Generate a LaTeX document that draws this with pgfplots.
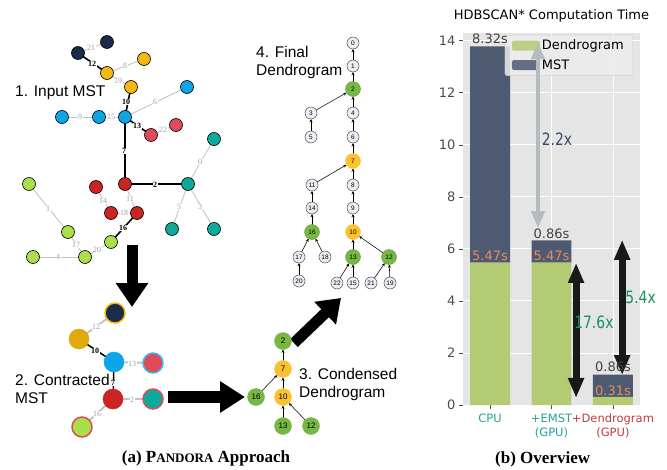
\documentclass[border=0pt]{standalone}
\usepackage{pgfplots}
\pgfplotsset{compat=1.18}
\usepackage{fontspec}
\usetikzlibrary{arrows.meta}
\newfontfamily\dv{DejaVu Sans}
\newfontfamily\dvc[FakeStretch=0.82]{DejaVu Sans}
\newfontfamily\ls{Liberation Sans}
\newfontfamily\lsr{Liberation Serif}
\definecolor{navy}{HTML}{1C2B4A}
\definecolor{ylw}{HTML}{F5B80F}
\definecolor{blu}{HTML}{0DA5E8}
\definecolor{pnk}{HTML}{E04B5B}
\definecolor{rd}{HTML}{CC2323}
\definecolor{teal}{HTML}{0FA99B}
\definecolor{lime}{HTML}{A9DF4B}
\definecolor{dgreen}{HTML}{77B845}
\definecolor{dylw}{HTML}{FCC12F}
\definecolor{wnode}{HTML}{EEEDF5}
\definecolor{chartgreen}{HTML}{B3CC73}
\definecolor{mstcol}{HTML}{4E5A72}
\definecolor{bg}{HTML}{E5E5E5}
\definecolor{orangelab}{HTML}{EA8A5A}
\definecolor{greentext}{HTML}{17915F}
\definecolor{slatetext}{HTML}{3D4866}
\definecolor{arrowgray}{HTML}{B5BCC0}
\definecolor{tickgray}{HTML}{4D4D4D}
\definecolor{cputeal}{HTML}{22A39D}
\definecolor{gpured}{HTML}{C43B3D}
\definecolor{legbg}{HTML}{EDEDED}
\definecolor{legborder}{HTML}{D0D0D0}
\definecolor{edgegray}{HTML}{C4C4C4}
\newcommand{\glab}[3]{\node[font=\lsr\fontsize{8}{8}\selectfont, text=gray!75, fill=white, inner sep=0.5pt] at (axis cs:#1,#2) {#3};}
\newcommand{\blab}[3]{\node[font=\lsr\bfseries\fontsize{8}{8}\selectfont, text=black, fill=white, inner sep=0.5pt] at (axis cs:#1,#2) {#3};}
\newcommand{\gedge}[4]{\addplot[edgegray, line width=0.9pt] coordinates {(#1,#2) (#3,#4)};}
\newcommand{\bedge}[4]{\addplot[black, line width=1.6pt] coordinates {(#1,#2) (#3,#4)};}
\newcommand{\darr}[6]{\addplot[black, line width=0.55pt, -{Stealth[length=3.2pt,width=3pt]}, shorten <=#5pt, shorten >=#6pt] coordinates {(#1,#2) (#3,#4)};}
\newcommand{\nlab}[3]{\node[font=\ls\fontsize{6.5}{6.5}\selectfont, inner sep=0pt] at (axis cs:#1,#2) {#3};}
\newcommand{\clab}[3]{\node[font=\ls\fontsize{8}{8}\selectfont, inner sep=0pt] at (axis cs:#1,#2) {#3};}
\pgfplotsset{leftframe/.style={at={(0pt,0pt)}, anchor=south west, scale only axis, width=420pt, height=469pt,
  xmin=0, xmax=420, ymin=0, ymax=469, y dir=reverse, hide axis, clip=false},
  rightframe/.style={at={(463pt,64pt)}, anchor=south west, scale only axis, width=177pt, height=372pt,
  xmin=-0.44, xmax=2.44, ymin=0, ymax=14.3, clip=false}}
\begin{document}
\begin{tikzpicture}
\useasboundingbox (0pt,0pt) rectangle (667pt,469pt);
% ================= LEFT: diagram =================
\begin{axis}[leftframe]
% --- Input MST edges
\gedge{78}{53}{107}{42}
\gedge{107}{73}{144}{59}
\gedge{107}{73}{131}{87}
\gedge{125}{117}{187}{87}
\gedge{99}{117}{125}{117}
\gedge{62}{117}{99}{117}
\gedge{151}{135}{176}{125}
\gedge{188}{184}{214}{139}
\gedge{188}{184}{172}{229}
\gedge{188}{184}{214}{229}
\gedge{96}{187}{111}{213}
\gedge{125}{184}{137}{213}
\gedge{111}{213}{137}{213}
\gedge{29}{184}{68}{232}
\gedge{68}{232}{85}{257}
\gedge{85}{257}{111}{242}
\gedge{33}{257}{85}{257}
\bedge{78}{53}{107}{73}
\bedge{131}{87}{125}{117}
\bedge{125}{117}{151}{135}
\bedge{125}{117}{125}{184}
\bedge{125}{184}{188}{184}
\bedge{137}{213}{111}{242}
% --- Input MST nodes
\addplot[only marks, mark=*, mark size=6.5pt, mark options={draw=black, fill=navy, line width=0.6pt}] coordinates {(107,42) (78,53)};
\addplot[only marks, mark=*, mark size=6.5pt, mark options={draw=black, fill=ylw, line width=0.6pt}] coordinates {(144,59) (107,73) (131,87)};
\addplot[only marks, mark=*, mark size=6.5pt, mark options={draw=black, fill=blu, line width=0.6pt}] coordinates {(187,87) (62,117) (99,117) (125,117)};
\addplot[only marks, mark=*, mark size=6.5pt, mark options={draw=black, fill=pnk, line width=0.6pt}] coordinates {(176,125) (151,135)};
\addplot[only marks, mark=*, mark size=6.5pt, mark options={draw=black, fill=teal, line width=0.6pt}] coordinates {(214,139) (188,184) (172,229) (214,229)};
\addplot[only marks, mark=*, mark size=6.5pt, mark options={draw=black, fill=rd, line width=0.6pt}] coordinates {(125,184) (96,187) (111,213) (137,213)};
\addplot[only marks, mark=*, mark size=6.5pt, mark options={draw=black, fill=lime, line width=0.6pt}] coordinates {(29,184) (68,232) (111,242) (33,257) (85,257)};
% --- Contracted MST
\addplot[edgegray, line width=2pt] coordinates {(115,313) (79,339)};
\addplot[black, line width=1.5pt] coordinates {(79,339) (114,362)};
\addplot[edgegray, line width=2pt] coordinates {(114,362) (153,363)};
\addplot[black, line width=1.5pt] coordinates {(114,362) (113,399)};
\addplot[edgegray, line width=2pt] coordinates {(113,399) (153,399)};
\addplot[edgegray, line width=2pt] coordinates {(113,399) (82,427)};
\addplot[only marks, mark=*, mark size=10pt, mark options={draw=ylw, fill=navy, line width=1.5pt}] coordinates {(115,313)};
\addplot[only marks, mark=*, mark size=10pt, mark options={draw=ylw!90!black, fill=ylw!92!black, line width=0.5pt}] coordinates {(79,339)};
\addplot[only marks, mark=*, mark size=10pt, mark options={draw=blu, fill=blu, line width=0.5pt}] coordinates {(114,362)};
\addplot[only marks, mark=*, mark size=10pt, mark options={draw=blu!80, fill=pnk, line width=1.5pt}] coordinates {(153,363)};
\addplot[only marks, mark=*, mark size=10pt, mark options={draw=rd, fill=rd, line width=0.5pt}] coordinates {(113,399)};
\addplot[only marks, mark=*, mark size=10pt, mark options={draw=pnk, fill=teal, line width=1.5pt}] coordinates {(153,399)};
\addplot[only marks, mark=*, mark size=10pt, mark options={draw=pnk, fill=lime, line width=1.5pt}] coordinates {(82,427)};
% --- Big arrows
\addplot[black, line width=11pt, -{Triangle[width=31pt,length=24pt]}] coordinates {(132,245) (132,307)};
\addplot[black, line width=12pt, -{Triangle[width=30pt,length=25pt]}] coordinates {(168,397) (245,397)};
\addplot[black, line width=11pt, -{Triangle[width=30pt,length=22pt]}] coordinates {(294,343) (341,298)};
% --- Condensed dendrogram
\darr{283}{369}{283}{341}{8.5}{8.5}
\darr{256}{397}{283}{369}{8.5}{8.5}
\darr{283}{397}{283}{369}{8.5}{8.5}
\darr{283}{426}{283}{397}{8.5}{8.5}
\darr{311}{426}{283}{397}{8.5}{8.5}
\addplot[only marks, mark=*, mark size=8.5pt, mark options={draw=dgreen, fill=dgreen}] coordinates {(283,341) (256,397) (283,426) (311,426)};
\addplot[only marks, mark=*, mark size=8.5pt, mark options={draw=dylw, fill=dylw}] coordinates {(283,369) (283,397)};
% --- Final dendrogram
\darr{353}{66}{353}{43}{6}{6}
\darr{353}{89}{353}{66}{7.5}{6}
\darr{353}{113}{353}{89}{6}{7.5}
\darr{311}{113}{353}{89}{6}{7.5}
\darr{311}{137}{311}{113}{6}{6}
\darr{353}{137}{353}{113}{6}{6}
\darr{353}{161}{353}{137}{7.5}{6}
\darr{353}{185}{353}{161}{6}{7.5}
\darr{312}{185}{353}{161}{6}{7.5}
\darr{353}{208}{353}{185}{6}{6}
\darr{312}{208}{312}{185}{6}{6}
\darr{353}{232}{353}{208}{7.5}{6}
\darr{312}{232}{312}{208}{7.5}{6}
\darr{353}{257}{353}{232}{7.5}{7.5}
\darr{389}{257}{353}{232}{7.5}{7.5}
\darr{299}{257}{312}{232}{6}{7.5}
\darr{325}{257}{312}{232}{6}{7.5}
\darr{299}{281}{299}{257}{6}{6}
\darr{337}{283}{353}{257}{6}{7.5}
\darr{353}{283}{353}{257}{6}{7.5}
\darr{371}{283}{389}{257}{6}{7.5}
\darr{390}{283}{389}{257}{6}{7.5}
\addplot[only marks, mark=*, mark size=6pt, mark options={draw=black!70, fill=wnode, line width=0.5pt}] coordinates {(353,43) (353,66) (311,113) (353,113) (311,137) (353,137) (312,185) (353,185) (312,208) (353,208) (299,257) (325,257) (299,281) (337,283) (353,283) (371,283) (390,283)};
\addplot[only marks, mark=*, mark size=7.5pt, mark options={draw=dgreen!85!black, fill=dgreen, line width=0.4pt}] coordinates {(353,89) (312,232) (353,257) (389,257)};
\addplot[only marks, mark=*, mark size=7.5pt, mark options={draw=dylw, fill=dylw, line width=0.4pt}] coordinates {(353,161) (353,232)};
\end{axis}
% overlay: texts of the left part
\begin{axis}[leftframe]
\glab{91}{48}{21}
\glab{125}{66}{8}
\glab{118}{81}{19}
\glab{155}{102}{6}
\glab{111}{117}{15}
\glab{80}{117}{9}
\glab{163}{130}{22}
\glab{200}{162}{0}
\glab{179}{207}{5}
\glab{200}{207}{3}
\glab{103}{201}{14}
\glab{130}{199}{11}
\glab{124}{213}{18}
\glab{48}{209}{1}
\glab{76}{245}{17}
\glab{97}{250}{20}
\glab{58}{257}{4}
\blab{92}{64}{12}
\blab{126}{102}{10}
\blab{137}{126}{13}
\blab{124}{151}{7}
\blab{155}{185}{2}
\blab{123}{228}{16}
\glab{96}{327}{12}
\blab{95}{351}{10}
\glab{132}{364}{13}
\blab{113}{383}{7}
\glab{132}{400}{2}
\glab{97}{414}{16}
\clab{283}{341}{2}
\clab{283}{369}{7}
\clab{256}{397}{16}
\clab{283}{397}{10}
\clab{283}{426}{13}
\clab{311}{426}{12}
\nlab{353}{43}{0}
\nlab{353}{66}{1}
\nlab{353}{89}{2}
\nlab{311}{113}{3}
\nlab{353}{113}{4}
\nlab{311}{137}{5}
\nlab{353}{137}{6}
\nlab{353}{161}{7}
\nlab{312}{185}{11}
\nlab{353}{185}{8}
\nlab{312}{208}{14}
\nlab{353}{208}{9}
\nlab{312}{232}{16}
\nlab{353}{232}{10}
\nlab{299}{257}{17}
\nlab{325}{257}{18}
\nlab{353}{257}{13}
\nlab{389}{257}{12}
\nlab{299}{281}{20}
\nlab{337}{283}{22}
\nlab{353}{283}{15}
\nlab{371}{283}{21}
\nlab{390}{283}{19}
\node[anchor=west, font=\ls\fontsize{15.5}{18}\selectfont, inner sep=0pt] at (axis cs:15,93) {1. Input MST};
\node[anchor=west, font=\ls\fontsize{15.5}{18}\selectfont, inner sep=0pt] at (axis cs:15,380) {2. Contracted};
\node[anchor=west, font=\ls\fontsize{15.5}{18}\selectfont, inner sep=0pt] at (axis cs:15,398) {MST};
\node[anchor=west, font=\ls\fontsize{15.5}{18}\selectfont, inner sep=0pt] at (axis cs:299,374) {3. Condensed};
\node[anchor=west, font=\ls\fontsize{15.5}{18}\selectfont, inner sep=0pt] at (axis cs:299,393) {Dendrogram};
\node[anchor=west, font=\ls\fontsize{15.5}{18}\selectfont, inner sep=0pt] at (axis cs:256,52) {4. Final};
\node[anchor=west, font=\ls\fontsize{15.5}{18}\selectfont, inner sep=0pt] at (axis cs:256,71) {Dendrogram};
\node[font=\lsr\bfseries\fontsize{17}{20}\selectfont, inner sep=0pt] at (axis cs:206,458) {(a) P{\fontsize{13}{20}\selectfont ANDORA} Approach};
\end{axis}
% ================= RIGHT: chart =================
\begin{axis}[rightframe,
  axis background/.style={fill=bg}, axis line style={draw=none},
  grid=major, grid style={white, line width=0.9pt},
  xtick={0,1,2}, ytick={0,2,4,6,8,10,12,14},
  xticklabels={\textcolor{cputeal}{CPU}, {\textcolor{cputeal}{+EMST}\\\textcolor{cputeal}{(GPU)}}, {\textcolor{gpured}{+Dendrogram}\\\textcolor{gpured}{(GPU)}}},
  xticklabel style={align=center, font=\dv\fontsize{11.5}{13.5}\selectfont, yshift=-1.5pt},
  yticklabel style={text=tickgray, font=\dv\fontsize{13}{15}\selectfont},
  /pgf/number format/assume math mode=true,
  tick style={color=tickgray, line width=0.7pt}, tick align=outside, major tick length=4pt,
  xtick pos=bottom, ytick pos=left,
  ybar stacked, bar width=0.65,
  legend style={at={(0.96,0.995)}, anchor=north east, fill=legbg, fill opacity=0.85, text opacity=1, draw=legborder, rounded corners=2pt, font=\dv\fontsize{13}{15}\selectfont, inner xsep=7pt, inner ysep=3pt, row sep=4pt},
  legend cell align=left]
\addplot[fill=chartgreen, draw=none, legend image code/.code={\fill[chartgreen] (0pt,-5pt) rectangle (28pt,5pt);}] coordinates {(0,5.47) (1,5.47) (2,0.31)};
\addlegendentry{Dendrogram}
\addplot[fill=mstcol, draw=none, legend image code/.code={\fill[mstcol] (0pt,-5pt) rectangle (28pt,5pt);}] coordinates {(0,8.32) (1,0.86) (2,0.86)};
\addlegendentry{MST}
\end{axis}
% overlay: arrows and texts of the chart
\begin{axis}[rightframe, hide axis]
\addplot[arrowgray, line width=4.5pt, {Triangle[width=13pt,length=17pt]}-{Triangle[width=13pt,length=17pt]}] coordinates {(0.78,6.8) (0.78,13.95)};
\addplot[black!90, line width=7pt, {Triangle[width=15pt,length=20pt]}-{Triangle[width=15pt,length=20pt]}] coordinates {(1.40,0.27) (1.40,5.46)};
\addplot[black!90, line width=7pt, {Triangle[width=15pt,length=20pt]}-{Triangle[width=15pt,length=20pt]}] coordinates {(2.15,1.15) (2.15,6.35)};
\node[font=\dv\fontsize{13}{15}\selectfont, text=black!75] at (axis cs:0,14.08) {8.32s};
\node[font=\dv\fontsize{13}{15}\selectfont, text=orangelab] at (axis cs:0,5.75) {5.47s};
\node[font=\dv\fontsize{13}{15}\selectfont, text=black!75] at (axis cs:1,6.6) {0.86s};
\node[font=\dv\fontsize{13}{15}\selectfont, text=orangelab] at (axis cs:1,5.75) {5.47s};
\node[font=\dv\fontsize{13}{15}\selectfont, text=black!75] at (axis cs:2,1.46) {0.86s};
\node[font=\dv\fontsize{13}{15}\selectfont, text=orangelab] at (axis cs:2,0.55) {0.31s};
\node[font=\dvc\fontsize{17}{19}\selectfont, text=slatetext] at (axis cs:1.09,10.2) {2.2x};
\node[font=\dvc\fontsize{17}{19}\selectfont, text=greentext] at (axis cs:1.69,3.19) {17.6x};
\node[font=\dvc\fontsize{17}{19}\selectfont, text=greentext] at (axis cs:2.45,4.15) {5.4x};
\node[font=\dv\fontsize{13}{15}\selectfont, anchor=base] at (rel axis cs:0.5,1) [yshift=13pt] {HDBSCAN* Computation Time};
\node[font=\lsr\bfseries\fontsize{17}{20}\selectfont, inner sep=0pt] at (rel axis cs:0.45,0) [yshift=-54pt] {(b) Overview};
\end{axis}
\end{tikzpicture}
\end{document}
